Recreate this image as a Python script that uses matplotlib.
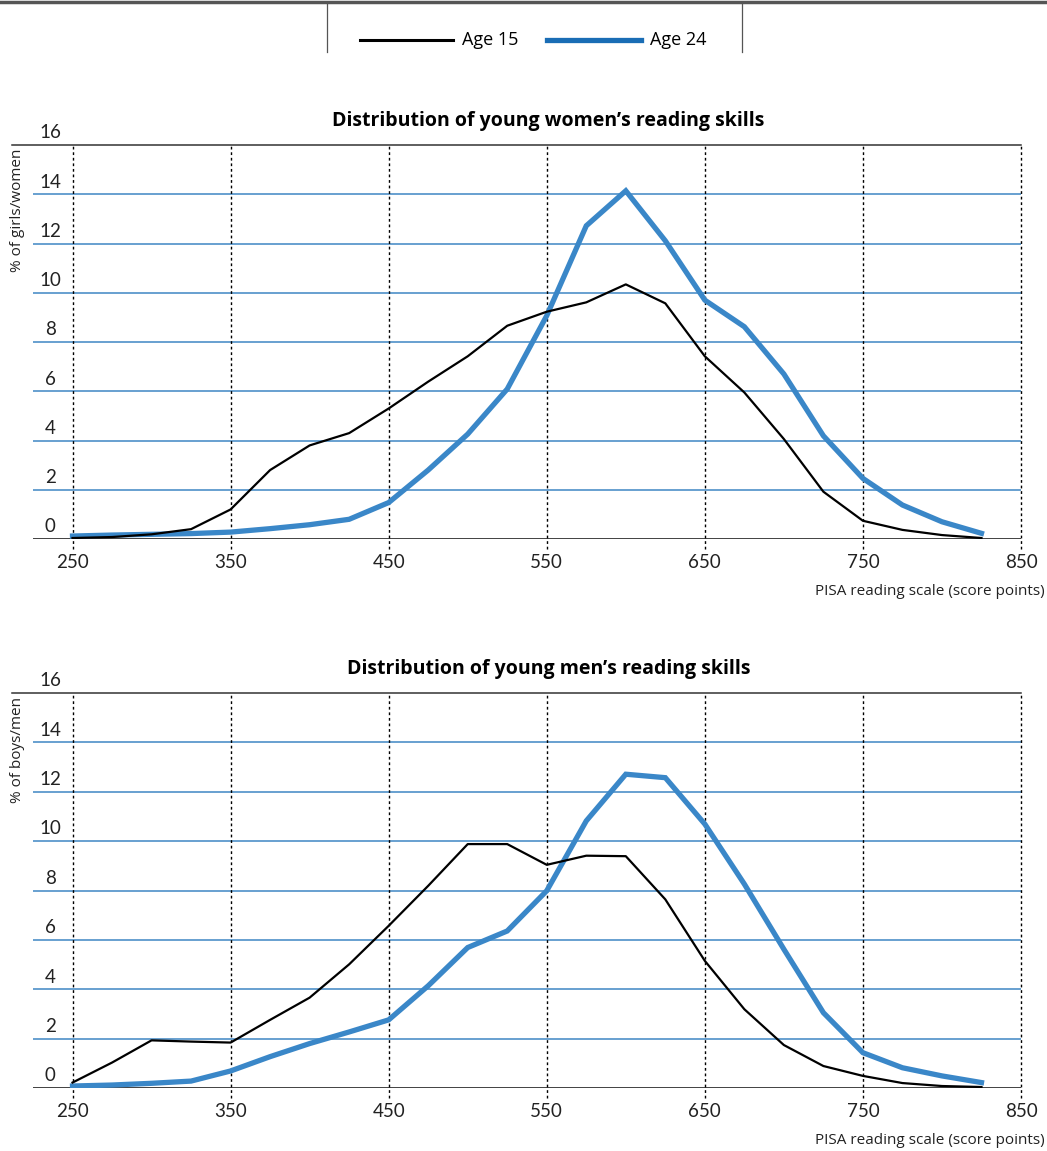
import numpy as np
import matplotlib.pyplot as plt
from matplotlib.lines import Line2D

# PISA reading score points (every 25 points)
scores = list(range(250, 850, 25))

# % of girls/women
women_15 = [0.04, 0.08, 0.19, 0.40, 1.20, 2.80, 3.80, 4.30, 5.30, 6.39, 7.42, 8.66,
            9.23, 9.61, 10.34, 9.57, 7.42, 5.95, 4.06, 1.92, 0.74, 0.37, 0.16, 0.04]
women_24 = [0.12, 0.16, 0.19, 0.22, 0.28, 0.42, 0.58, 0.80, 1.48, 2.80, 4.26, 6.09,
            9.07, 12.72, 14.14, 12.11, 9.70, 8.62, 6.70, 4.19, 2.46, 1.38, 0.70, 0.23]

# % of boys/men
men_15 = [0.22, 1.03, 1.93, 1.88, 1.84, 2.76, 3.66, 5.01, 6.57, 8.19, 9.88, 9.88,
          9.04, 9.41, 9.39, 7.64, 5.15, 3.19, 1.74, 0.89, 0.49, 0.20, 0.08, 0.04]
men_24 = [0.08, 0.12, 0.19, 0.28, 0.69, 1.27, 1.80, 2.27, 2.76, 4.14, 5.69, 6.36,
          7.99, 10.82, 12.71, 12.57, 10.69, 8.26, 5.62, 3.05, 1.43, 0.82, 0.49, 0.22]

titles = ["Distribution of young women\u2019s reading skills",
          "Distribution of young men\u2019s reading skills"]
ylabels = ["% of girls/women", "% of boys/men"]
xticks = [250, 350, 450, 550, 650, 750, 850]
yticks = [0, 2, 4, 6, 8, 10, 12, 14, 16]

W, H = 1047, 1151
BLUE = '#3a87c8'
GRID = '#3f86c4'
NUM_FONT = ['Lato', 'DejaVu Sans']
TXT_FONT = ['Open Sans', 'DejaVu Sans']

fig = plt.figure(figsize=(W / 100, H / 100), dpi=100)

# legend strip at the top
fig.add_artist(Line2D([0, 1], [1 - 2 / H, 1 - 2 / H], color='#555555', lw=2.5))
for xp in (327, 742):
    fig.add_artist(Line2D([xp / W, xp / W], [1 - 2 / H, 1 - 52 / H], color='#555555', lw=0.9))
fig.add_artist(Line2D([360 / W, 453 / W], [1 - 40 / H, 1 - 40 / H], color='black', lw=2.2))
fig.text(462 / W, 1 - 40 / H, "Age 15", family=TXT_FONT, fontsize=13, va='center', ha='left')
fig.add_artist(Line2D([547 / W, 641 / W], [1 - 40 / H, 1 - 40 / H], color='#1a6db5', lw=3.8))
fig.text(650 / W, 1 - 40 / H, "Age 24", family=TXT_FONT, fontsize=13, va='center', ha='left')

panels = [
    (145, 539, women_15, women_24),
    (693, 1088, men_15, men_24),
]

left, right = 33 / W, 1021 / W
for i, (ytop, ybot, s15, s24) in enumerate(panels):
    ax = fig.add_axes([left, 1 - ybot / H, right - left, (ybot - ytop) / H])
    ax.set_xlim(225, 850)
    ax.set_ylim(0, 16)
    ax.axis('off')

    # horizontal grid
    for yv in yticks[1:-1]:
        ax.axhline(yv, color=GRID, lw=1.1, zorder=1)
    ax.axhline(0, color='#333333', lw=1.3, zorder=1)
    ax.plot([211.5, 850], [16, 16], color='#333333', lw=1.1, clip_on=False, zorder=1)

    # dotted verticals
    ax.vlines(xticks, -0.42, 16, colors='black', lw=1.0, linestyles=(0, (2, 2)),
              clip_on=False, zorder=1)

    ax.plot(scores, s15, color='black', lw=1.6, zorder=3)
    ax.plot(scores, s24, color=BLUE, lw=3.8, zorder=2, solid_joinstyle='miter')

    for xv in xticks:
        ax.text(xv, -0.95, str(xv), family=NUM_FONT, fontsize=13.5, ha='center', va='center',
                color='#222222')
    for yv in yticks:
        ax.text(235.8, yv + 0.15, str(yv), family=NUM_FONT, fontsize=13.5, ha='center',
                va='bottom', color='#222222')

    ax.text(551, 16.55, titles[i], family=TXT_FONT, fontsize=14, fontweight='bold',
            ha='center', va='bottom')
    fig.text(1045 / W, 1 - (ybot + 52) / H, "PISA reading scale (score points)",
             family=TXT_FONT, fontsize=11, ha='right', va='center', color='#222222')
    fig.text(18 / W, 1 - (ytop + 4) / H, ylabels[i], family=TXT_FONT, fontsize=11,
             rotation=90, ha='center', va='top', color='#222222')

fig.savefig('out.png', dpi=100)
